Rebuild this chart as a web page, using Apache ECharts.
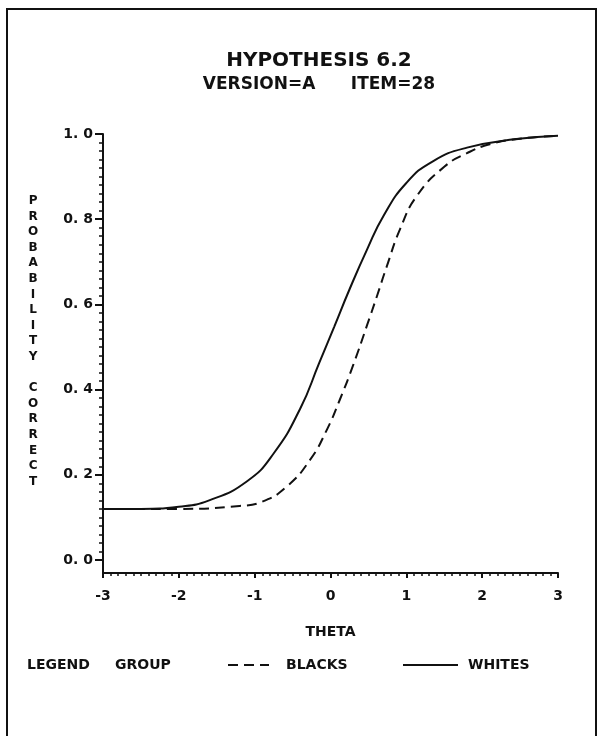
<!DOCTYPE html>
<html style="height: 100%">
<head>
    <meta charset="utf-8">
    <script src="https://cdn.jsdelivr.net/npm/echarts@6/dist/echarts.min.js"></script>
</head>
<body style="height: 100%;margin: 0;background: #fff">
<div id="chart" style="width: 601px;height: 736px;"></div>
<script type="text/javascript">
// 读图得到的曲线 [theta, probability]
var whites = [
    [-3.0, 0.12], [-2.5, 0.12], [-2.0, 0.125], [-1.6, 0.14], [-1.1, 0.185],
    [-0.75, 0.25], [-0.4, 0.355], [-0.15, 0.462], [0.05, 0.548], [0.25, 0.635],
    [0.48, 0.728], [0.7, 0.808], [1.0, 0.885], [1.35, 0.936], [1.8, 0.968],
    [2.45, 0.988], [3.0, 0.996]
];
var blacks = [
    [-3.0, 0.12], [-2.0, 0.12], [-1.2, 0.127], [-0.9, 0.137], [-0.58, 0.172],
    [-0.27, 0.235], [-0.05, 0.305], [0.12, 0.375], [0.3, 0.458], [0.48, 0.55],
    [0.61, 0.618], [0.74, 0.688], [0.92, 0.778], [1.14, 0.855], [1.5, 0.923],
    [1.8, 0.955], [2.1, 0.976], [2.5, 0.989], [3.0, 0.996]
];
var groups = ['BLACKS', 'WHITES'];
var titleText = 'HYPOTHESIS 6.2';
var subText = 'VERSION=A      ITEM=28';
var yName = 'PROBABILITY CORRECT';
var xName = 'THETA';

var FONT = "'DejaVu Sans', 'Liberation Sans', sans-serif";
var INK = '#111';
// 网格位置
var gLeft = 103, gTop = 134, gRight = 43, gBottom = 176;
var xOffset = 13;

var dom = document.getElementById('chart');
var myChart = echarts.init(dom, null, {renderer: 'canvas'});
var txt = function (size) {
    return {color: INK, fontFamily: FONT, fontWeight: 'bold', fontSize: size};
};
var option = {
    backgroundColor: '#fff',
    animation: false,
    title: {
        text: titleText,
        subtext: subText,
        left: 314,
        top: 44,
        textAlign: 'center',
        itemGap: 3,
        textStyle: Object.assign(txt(20), {lineHeight: 23}),
        subtextStyle: Object.assign(txt(17), {lineHeight: 20})
    },
    grid: {left: gLeft, top: gTop, right: gRight, bottom: gBottom},
    xAxis: {
        type: 'value',
        min: -3,
        max: 3,
        interval: 1,
        offset: xOffset,
        name: xName,
        nameLocation: 'middle',
        nameGap: 52,
        nameTextStyle: txt(14),
        axisLine: {show: true, onZero: false, lineStyle: {color: INK, width: 2}},
        axisTick: {show: true, length: 5, lineStyle: {color: INK, width: 2}},
        minorTick: {show: true, splitNumber: 10, length: 3, lineStyle: {color: INK, width: 1.5}},
        axisLabel: Object.assign(txt(14), {margin: 16}),
        splitLine: {show: false}
    },
    yAxis: {
        type: 'value',
        min: 0,
        max: 1,
        interval: 0.2,
        axisLine: {show: true, onZero: false, lineStyle: {color: INK, width: 2}},
        axisTick: {show: true, length: 8, lineStyle: {color: INK, width: 2}},
        minorTick: {show: true, splitNumber: 10, length: 4, lineStyle: {color: INK, width: 1.5}},
        axisLabel: Object.assign(txt(14), {
            margin: 10,
            formatter: function (v) { return v.toFixed(1).replace('.', '. '); }
        }),
        splitLine: {show: false}
    },
    legend: [
        {
            data: [groups[0]], left: 227, top: 658, padding: 0,
            itemWidth: 41, itemHeight: 14,
            itemStyle: {color: 'rgba(0,0,0,0)', borderWidth: 0},
            textStyle: Object.assign(txt(14), {padding: [0, 0, 0, 12]})
        },
        {
            data: [groups[1]], left: 402, top: 658, padding: 0,
            itemWidth: 55, itemHeight: 14,
            itemStyle: {color: 'rgba(0,0,0,0)', borderWidth: 0},
            textStyle: Object.assign(txt(14), {padding: [0, 0, 0, 5]})
        }
    ],
    graphic: [
        // 外框
        {type: 'rect', shape: {x: 7, y: 9, width: 589, height: 760},
            style: {fill: 'none', stroke: INK, lineWidth: 2}, silent: true},
        // y轴延伸到x轴
        {type: 'line', shape: {x1: gLeft, y1: 736 - gBottom, x2: gLeft, y2: 736 - gBottom + xOffset},
            style: {stroke: INK, lineWidth: 2}, silent: true},
        {type: 'text', left: 28, top: 193,
            style: {text: yName.split('').join('\n'), lineHeight: 15.6,
                font: 'bold 12px ' + FONT, fill: INK, textAlign: 'center'}, silent: true},
        {type: 'text', left: 27, top: 658,
            style: {text: 'LEGEND', font: 'bold 14px ' + FONT, fill: INK}, silent: true},
        {type: 'text', left: 115, top: 658,
            style: {text: 'GROUP', font: 'bold 14px ' + FONT, fill: INK}, silent: true}
    ],
    series: [
        {
            name: groups[0],
            type: 'line',
            data: blacks,
            smooth: 0.5,
            symbol: 'none',
            lineStyle: {color: INK, width: 2, type: [10, 6]},
            itemStyle: {color: INK}
        },
        {
            name: groups[1],
            type: 'line',
            data: whites,
            smooth: 0.5,
            symbol: 'none',
            lineStyle: {color: INK, width: 2, type: 'solid'},
            itemStyle: {color: INK}
        }
    ]
};
myChart.setOption(option);
</script>
</body>
</html>
